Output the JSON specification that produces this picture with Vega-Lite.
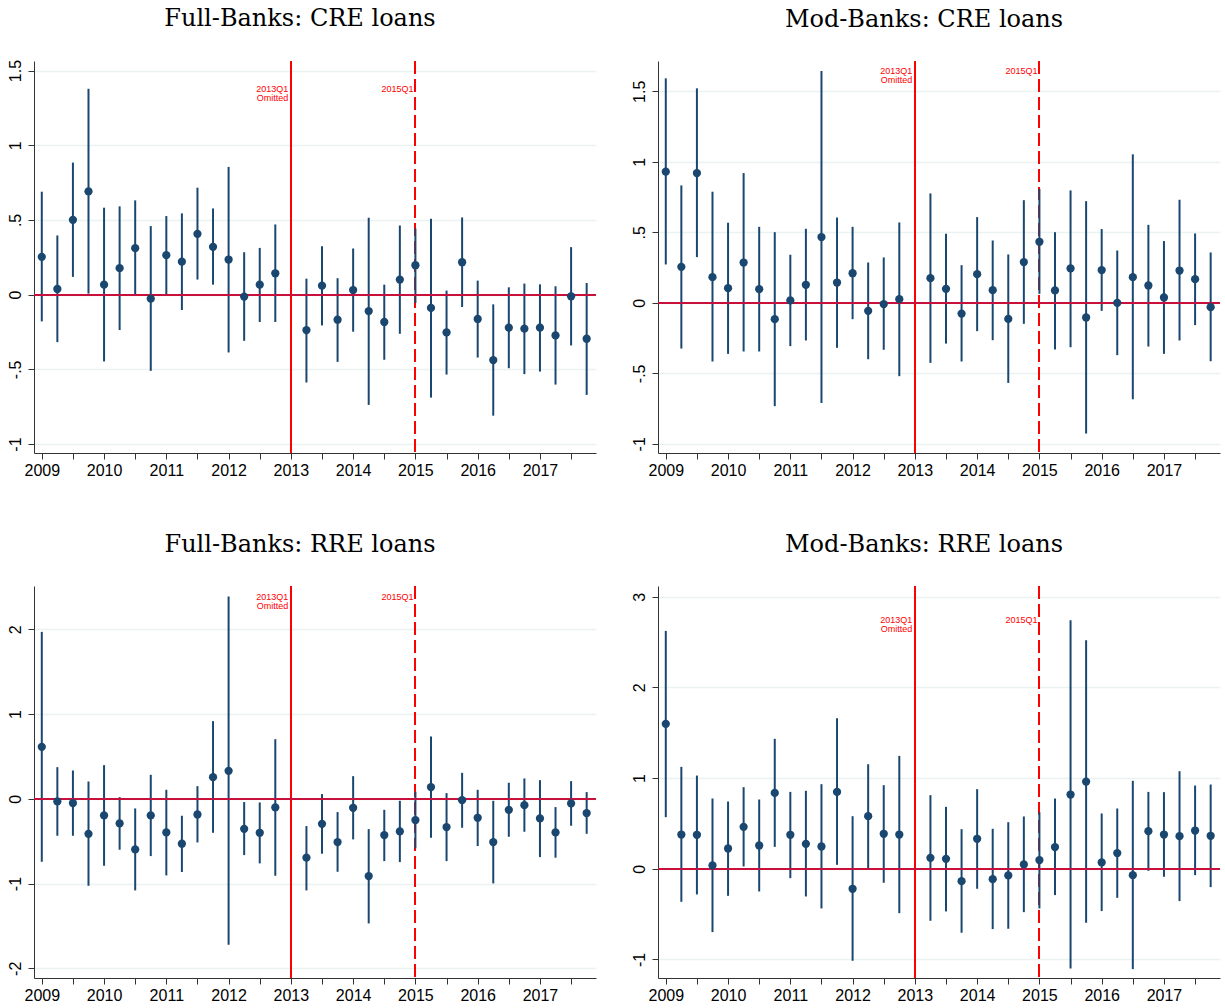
{
  "$schema": "https://vega.github.io/schema/vega-lite/v6.json",
  "padding": {"left": 7, "top": 7, "right": 0, "bottom": 0},
  "background": "white",
  "datasets": {
    "est": [
      {"p":"FC","q":0,"b":0.253,"lo":-0.179,"hi":0.689},
      {"p":"FC","q":1,"b":0.038,"lo":-0.318,"hi":0.396},
      {"p":"FC","q":2,"b":0.501,"lo":0.119,"hi":0.884},
      {"p":"FC","q":3,"b":0.691,"lo":0.007,"hi":1.378},
      {"p":"FC","q":4,"b":0.067,"lo":-0.447,"hi":0.582},
      {"p":"FC","q":5,"b":0.177,"lo":-0.237,"hi":0.591},
      {"p":"FC","q":6,"b":0.311,"lo":-0.004,"hi":0.631},
      {"p":"FC","q":7,"b":-0.027,"lo":-0.510,"hi":0.459},
      {"p":"FC","q":8,"b":0.264,"lo":0.000,"hi":0.526},
      {"p":"FC","q":9,"b":0.221,"lo":-0.103,"hi":0.544},
      {"p":"FC","q":10,"b":0.407,"lo":0.101,"hi":0.716},
      {"p":"FC","q":11,"b":0.320,"lo":0.067,"hi":0.577},
      {"p":"FC","q":12,"b":0.235,"lo":-0.387,"hi":0.855},
      {"p":"FC","q":13,"b":-0.013,"lo":-0.309,"hi":0.284},
      {"p":"FC","q":14,"b":0.067,"lo":-0.183,"hi":0.313},
      {"p":"FC","q":15,"b":0.143,"lo":-0.183,"hi":0.470},
      {"p":"FC","q":17,"b":-0.237,"lo":-0.588,"hi":0.107},
      {"p":"FC","q":18,"b":0.060,"lo":-0.206,"hi":0.324},
      {"p":"FC","q":19,"b":-0.168,"lo":-0.450,"hi":0.110},
      {"p":"FC","q":20,"b":0.031,"lo":-0.248,"hi":0.309},
      {"p":"FC","q":21,"b":-0.110,"lo":-0.738,"hi":0.515},
      {"p":"FC","q":22,"b":-0.183,"lo":-0.436,"hi":0.067},
      {"p":"FC","q":23,"b":0.101,"lo":-0.262,"hi":0.463},
      {"p":"FC","q":24,"b":0.197,"lo":-0.056,"hi":0.443},
      {"p":"FC","q":25,"b":-0.089,"lo":-0.689,"hi":0.508},
      {"p":"FC","q":26,"b":-0.253,"lo":-0.535,"hi":0.027},
      {"p":"FC","q":27,"b":0.217,"lo":-0.083,"hi":0.517},
      {"p":"FC","q":28,"b":-0.163,"lo":-0.421,"hi":0.094},
      {"p":"FC","q":29,"b":-0.438,"lo":-0.810,"hi":-0.065},
      {"p":"FC","q":30,"b":-0.221,"lo":-0.492,"hi":0.049},
      {"p":"FC","q":31,"b":-0.228,"lo":-0.532,"hi":0.074},
      {"p":"FC","q":32,"b":-0.221,"lo":-0.515,"hi":0.069},
      {"p":"FC","q":33,"b":-0.273,"lo":-0.602,"hi":0.056},
      {"p":"FC","q":34,"b":-0.011,"lo":-0.340,"hi":0.318},
      {"p":"FC","q":35,"b":-0.295,"lo":-0.671,"hi":0.078},

      {"p":"MC","q":0,"b":0.930,"lo":0.272,"hi":1.592},
      {"p":"MC","q":1,"b":0.255,"lo":-0.324,"hi":0.833},
      {"p":"MC","q":2,"b":0.920,"lo":0.324,"hi":1.521},
      {"p":"MC","q":3,"b":0.182,"lo":-0.416,"hi":0.788},
      {"p":"MC","q":4,"b":0.104,"lo":-0.362,"hi":0.568},
      {"p":"MC","q":5,"b":0.286,"lo":-0.345,"hi":0.920},
      {"p":"MC","q":6,"b":0.097,"lo":-0.345,"hi":0.539},
      {"p":"MC","q":7,"b":-0.116,"lo":-0.733,"hi":0.501},
      {"p":"MC","q":8,"b":0.017,"lo":-0.307,"hi":0.341},
      {"p":"MC","q":9,"b":0.128,"lo":-0.267,"hi":0.525},
      {"p":"MC","q":10,"b":0.466,"lo":-0.710,"hi":1.644},
      {"p":"MC","q":11,"b":0.144,"lo":-0.319,"hi":0.605},
      {"p":"MC","q":12,"b":0.210,"lo":-0.116,"hi":0.539},
      {"p":"MC","q":13,"b":-0.057,"lo":-0.400,"hi":0.286},
      {"p":"MC","q":14,"b":-0.009,"lo":-0.333,"hi":0.322},
      {"p":"MC","q":15,"b":0.026,"lo":-0.520,"hi":0.570},
      {"p":"MC","q":17,"b":0.175,"lo":-0.426,"hi":0.776},
      {"p":"MC","q":18,"b":0.099,"lo":-0.289,"hi":0.490},
      {"p":"MC","q":19,"b":-0.076,"lo":-0.416,"hi":0.267},
      {"p":"MC","q":20,"b":0.203,"lo":-0.201,"hi":0.608},
      {"p":"MC","q":21,"b":0.090,"lo":-0.265,"hi":0.442},
      {"p":"MC","q":22,"b":-0.114,"lo":-0.568,"hi":0.343},
      {"p":"MC","q":23,"b":0.289,"lo":-0.149,"hi":0.728},
      {"p":"MC","q":24,"b":0.433,"lo":0.064,"hi":0.807},
      {"p":"MC","q":25,"b":0.088,"lo":-0.331,"hi":0.501},
      {"p":"MC","q":26,"b":0.244,"lo":-0.315,"hi":0.797},
      {"p":"MC","q":27,"b":-0.104,"lo":-0.927,"hi":0.721},
      {"p":"MC","q":28,"b":0.232,"lo":-0.057,"hi":0.523},
      {"p":"MC","q":29,"b":0.000,"lo":-0.371,"hi":0.371},
      {"p":"MC","q":30,"b":0.182,"lo":-0.684,"hi":1.053},
      {"p":"MC","q":31,"b":0.123,"lo":-0.310,"hi":0.553},
      {"p":"MC","q":32,"b":0.038,"lo":-0.362,"hi":0.438},
      {"p":"MC","q":33,"b":0.229,"lo":-0.267,"hi":0.731},
      {"p":"MC","q":34,"b":0.168,"lo":-0.158,"hi":0.492},
      {"p":"MC","q":35,"b":-0.031,"lo":-0.414,"hi":0.357},

      {"p":"FR","q":0,"b":0.613,"lo":-0.743,"hi":1.969},
      {"p":"FR","q":1,"b":-0.031,"lo":-0.436,"hi":0.373},
      {"p":"FR","q":2,"b":-0.051,"lo":-0.436,"hi":0.334},
      {"p":"FR","q":3,"b":-0.413,"lo":-1.026,"hi":0.204},
      {"p":"FR","q":4,"b":-0.196,"lo":-0.790,"hi":0.397},
      {"p":"FR","q":5,"b":-0.291,"lo":-0.601,"hi":0.020},
      {"p":"FR","q":6,"b":-0.597,"lo":-1.081,"hi":-0.114},
      {"p":"FR","q":7,"b":-0.196,"lo":-0.676,"hi":0.283},
      {"p":"FR","q":8,"b":-0.397,"lo":-0.904,"hi":0.106},
      {"p":"FR","q":9,"b":-0.530,"lo":-0.864,"hi":-0.200},
      {"p":"FR","q":10,"b":-0.185,"lo":-0.515,"hi":0.149},
      {"p":"FR","q":11,"b":0.255,"lo":-0.401,"hi":0.916},
      {"p":"FR","q":12,"b":0.330,"lo":-1.721,"hi":2.385},
      {"p":"FR","q":13,"b":-0.354,"lo":-0.664,"hi":-0.039},
      {"p":"FR","q":14,"b":-0.401,"lo":-0.762,"hi":-0.043},
      {"p":"FR","q":15,"b":-0.102,"lo":-0.908,"hi":0.703},
      {"p":"FR","q":17,"b":-0.695,"lo":-1.081,"hi":-0.322},
      {"p":"FR","q":18,"b":-0.295,"lo":-0.648,"hi":0.055},
      {"p":"FR","q":19,"b":-0.511,"lo":-0.861,"hi":-0.157},
      {"p":"FR","q":20,"b":-0.106,"lo":-0.479,"hi":0.267},
      {"p":"FR","q":21,"b":-0.912,"lo":-1.470,"hi":-0.358},
      {"p":"FR","q":22,"b":-0.428,"lo":-0.735,"hi":-0.130},
      {"p":"FR","q":23,"b":-0.385,"lo":-0.747,"hi":-0.024},
      {"p":"FR","q":24,"b":-0.251,"lo":-0.585,"hi":0.083},
      {"p":"FR","q":25,"b":0.138,"lo":-0.460,"hi":0.735},
      {"p":"FR","q":26,"b":-0.334,"lo":-0.735,"hi":0.067},
      {"p":"FR","q":27,"b":-0.016,"lo":-0.342,"hi":0.306},
      {"p":"FR","q":28,"b":-0.224,"lo":-0.558,"hi":0.106},
      {"p":"FR","q":29,"b":-0.511,"lo":-0.998,"hi":-0.024},
      {"p":"FR","q":30,"b":-0.130,"lo":-0.448,"hi":0.189},
      {"p":"FR","q":31,"b":-0.075,"lo":-0.389,"hi":0.240},
      {"p":"FR","q":32,"b":-0.232,"lo":-0.688,"hi":0.220},
      {"p":"FR","q":33,"b":-0.397,"lo":-0.695,"hi":-0.098},
      {"p":"FR","q":34,"b":-0.055,"lo":-0.318,"hi":0.208},
      {"p":"FR","q":35,"b":-0.169,"lo":-0.413,"hi":0.079},

      {"p":"MR","q":0,"b":1.598,"lo":0.569,"hi":2.623},
      {"p":"MR","q":1,"b":0.378,"lo":-0.364,"hi":1.124},
      {"p":"MR","q":2,"b":0.375,"lo":-0.283,"hi":1.028},
      {"p":"MR","q":3,"b":0.037,"lo":-0.698,"hi":0.775},
      {"p":"MR","q":4,"b":0.224,"lo":-0.298,"hi":0.742},
      {"p":"MR","q":5,"b":0.463,"lo":0.026,"hi":0.900},
      {"p":"MR","q":6,"b":0.257,"lo":-0.250,"hi":0.764},
      {"p":"MR","q":7,"b":0.837,"lo":0.242,"hi":1.433},
      {"p":"MR","q":8,"b":0.375,"lo":-0.103,"hi":0.848},
      {"p":"MR","q":9,"b":0.275,"lo":-0.305,"hi":0.860},
      {"p":"MR","q":10,"b":0.246,"lo":-0.437,"hi":0.933},
      {"p":"MR","q":11,"b":0.848,"lo":0.044,"hi":1.660},
      {"p":"MR","q":12,"b":-0.220,"lo":-1.014,"hi":0.580},
      {"p":"MR","q":13,"b":0.580,"lo":0.007,"hi":1.153},
      {"p":"MR","q":14,"b":0.386,"lo":-0.154,"hi":0.922},
      {"p":"MR","q":15,"b":0.378,"lo":-0.489,"hi":1.245},
      {"p":"MR","q":17,"b":0.121,"lo":-0.573,"hi":0.812},
      {"p":"MR","q":18,"b":0.110,"lo":-0.470,"hi":0.683},
      {"p":"MR","q":19,"b":-0.136,"lo":-0.705,"hi":0.437},
      {"p":"MR","q":20,"b":0.331,"lo":-0.220,"hi":0.878},
      {"p":"MR","q":21,"b":-0.114,"lo":-0.665,"hi":0.441},
      {"p":"MR","q":22,"b":-0.073,"lo":-0.661,"hi":0.514},
      {"p":"MR","q":23,"b":0.048,"lo":-0.478,"hi":0.577},
      {"p":"MR","q":24,"b":0.096,"lo":-0.437,"hi":0.624},
      {"p":"MR","q":25,"b":0.239,"lo":-0.290,"hi":0.775},
      {"p":"MR","q":26,"b":0.819,"lo":-1.098,"hi":2.740},
      {"p":"MR","q":27,"b":0.962,"lo":-0.595,"hi":2.520},
      {"p":"MR","q":28,"b":0.070,"lo":-0.466,"hi":0.610},
      {"p":"MR","q":29,"b":0.173,"lo":-0.320,"hi":0.665},
      {"p":"MR","q":30,"b":-0.070,"lo":-1.106,"hi":0.970},
      {"p":"MR","q":31,"b":0.415,"lo":-0.022,"hi":0.848},
      {"p":"MR","q":32,"b":0.378,"lo":-0.088,"hi":0.845},
      {"p":"MR","q":33,"b":0.360,"lo":-0.356,"hi":1.076},
      {"p":"MR","q":34,"b":0.422,"lo":-0.070,"hi":0.918},
      {"p":"MR","q":35,"b":0.364,"lo":-0.202,"hi":0.929}
    ]
  },
  "columns": 2,
  "bounds": "flush",
  "spacing": {"row": 133, "column": 62},
  "concat": [
    {
      "title": "Full-Banks: CRE loans",
      "width": 562, "height": 392,
      "data": {"name": "est"},
      "transform": [{"filter": "datum.p == 'FC'"}],
      "layer": [
        {"mark": {"type": "rule", "color": "#ff0000", "strokeWidth": 0.9}, "encoding": {"x": {"datum": 16, "type": "quantitative"}}},
        {"mark": {"type": "rule", "color": "#ff0000", "strokeWidth": 1.1, "strokeDash": [13, 5]}, "encoding": {"x": {"datum": 24, "type": "quantitative"}}},
        {"mark": {"type": "rule", "color": "#1a476f", "strokeWidth": 2},
         "encoding": {
           "x": {"field": "q", "type": "quantitative", "title": null, "scale": {"domain": [-0.5, 35.6], "nice": false, "zero": false}},
           "y": {"field": "lo", "type": "quantitative", "title": null, "scale": {"domain": [-1.06, 1.564], "nice": false, "zero": false}, "axis": {"values": [-1, -0.5, 0, 0.5, 1, 1.5]}},
           "y2": {"field": "hi"}}},
        {"mark": {"type": "rule", "color": "#c8103c", "strokeWidth": 1.5}, "encoding": {"y": {"datum": 0, "type": "quantitative"}}},
        {"mark": {"type": "point", "filled": true, "opacity": 1, "color": "#1a476f", "size": 68},
         "encoding": {"x": {"field": "q", "type": "quantitative", "title": null}, "y": {"field": "b", "type": "quantitative", "title": null}}},
        {"transform": [{"aggregate": [{"op": "max", "field": "hi", "as": "ymax"}]}],
         "mark": {"type": "text", "align": "right", "baseline": "middle", "dx": -2.5, "fontSize": 9, "lineHeight": 9, "font": "Liberation Sans", "color": "#ff0000"},
         "encoding": {"x": {"datum": 16, "type": "quantitative"}, "y": {"field": "ymax", "type": "quantitative", "title": null}, "text": {"value": ["2013Q1", "Omitted"]}}},
        {"transform": [{"aggregate": [{"op": "max", "field": "hi", "as": "ymax"}]}],
         "mark": {"type": "text", "align": "right", "baseline": "middle", "dx": -2, "fontSize": 9, "font": "Liberation Sans", "color": "#ff0000"},
         "encoding": {"x": {"datum": 24, "type": "quantitative"}, "y": {"field": "ymax", "type": "quantitative", "title": null}, "text": {"value": "2015Q1"}}}
      ]
    },
    {
      "title": "Mod-Banks: CRE loans",
      "width": 562, "height": 392,
      "data": {"name": "est"},
      "transform": [{"filter": "datum.p == 'MC'"}],
      "layer": [
        {"mark": {"type": "rule", "color": "#ff0000", "strokeWidth": 0.9}, "encoding": {"x": {"datum": 16, "type": "quantitative"}}},
        {"mark": {"type": "rule", "color": "#ff0000", "strokeWidth": 1.1, "strokeDash": [13, 5]}, "encoding": {"x": {"datum": 24, "type": "quantitative"}}},
        {"mark": {"type": "rule", "color": "#1a476f", "strokeWidth": 2},
         "encoding": {
           "x": {"field": "q", "type": "quantitative", "title": null, "scale": {"domain": [-0.5, 35.6], "nice": false, "zero": false}},
           "y": {"field": "lo", "type": "quantitative", "title": null, "scale": {"domain": [-1.065, 1.715], "nice": false, "zero": false}, "axis": {"values": [-1, -0.5, 0, 0.5, 1, 1.5]}},
           "y2": {"field": "hi"}}},
        {"mark": {"type": "rule", "color": "#c8103c", "strokeWidth": 1.5}, "encoding": {"y": {"datum": 0, "type": "quantitative"}}},
        {"mark": {"type": "point", "filled": true, "opacity": 1, "color": "#1a476f", "size": 68},
         "encoding": {"x": {"field": "q", "type": "quantitative", "title": null}, "y": {"field": "b", "type": "quantitative", "title": null}}},
        {"transform": [{"aggregate": [{"op": "max", "field": "hi", "as": "ymax"}]}],
         "mark": {"type": "text", "align": "right", "baseline": "middle", "dx": -2.5, "fontSize": 9, "lineHeight": 9, "font": "Liberation Sans", "color": "#ff0000"},
         "encoding": {"x": {"datum": 16, "type": "quantitative"}, "y": {"field": "ymax", "type": "quantitative", "title": null}, "text": {"value": ["2013Q1", "Omitted"]}}},
        {"transform": [{"aggregate": [{"op": "max", "field": "hi", "as": "ymax"}]}],
         "mark": {"type": "text", "align": "right", "baseline": "middle", "dx": -2, "fontSize": 9, "font": "Liberation Sans", "color": "#ff0000"},
         "encoding": {"x": {"datum": 24, "type": "quantitative"}, "y": {"field": "ymax", "type": "quantitative", "title": null}, "text": {"value": "2015Q1"}}}
      ]
    },
    {
      "title": "Full-Banks: RRE loans",
      "width": 562, "height": 392,
      "data": {"name": "est"},
      "transform": [{"filter": "datum.p == 'FR'"}],
      "layer": [
        {"mark": {"type": "rule", "color": "#ff0000", "strokeWidth": 0.9}, "encoding": {"x": {"datum": 16, "type": "quantitative"}}},
        {"mark": {"type": "rule", "color": "#ff0000", "strokeWidth": 1.1, "strokeDash": [13, 5]}, "encoding": {"x": {"datum": 24, "type": "quantitative"}}},
        {"mark": {"type": "rule", "color": "#1a476f", "strokeWidth": 2},
         "encoding": {
           "x": {"field": "q", "type": "quantitative", "title": null, "scale": {"domain": [-0.5, 35.6], "nice": false, "zero": false}},
           "y": {"field": "lo", "type": "quantitative", "title": null, "scale": {"domain": [-2.114, 2.51], "nice": false, "zero": false}, "axis": {"values": [-2, -1, 0, 1, 2]}},
           "y2": {"field": "hi"}}},
        {"mark": {"type": "rule", "color": "#c8103c", "strokeWidth": 1.5}, "encoding": {"y": {"datum": 0, "type": "quantitative"}}},
        {"mark": {"type": "point", "filled": true, "opacity": 1, "color": "#1a476f", "size": 68},
         "encoding": {"x": {"field": "q", "type": "quantitative", "title": null}, "y": {"field": "b", "type": "quantitative", "title": null}}},
        {"transform": [{"aggregate": [{"op": "max", "field": "hi", "as": "ymax"}]}],
         "mark": {"type": "text", "align": "right", "baseline": "middle", "dx": -2.5, "fontSize": 9, "lineHeight": 9, "font": "Liberation Sans", "color": "#ff0000"},
         "encoding": {"x": {"datum": 16, "type": "quantitative"}, "y": {"field": "ymax", "type": "quantitative", "title": null}, "text": {"value": ["2013Q1", "Omitted"]}}},
        {"transform": [{"aggregate": [{"op": "max", "field": "hi", "as": "ymax"}]}],
         "mark": {"type": "text", "align": "right", "baseline": "middle", "dx": -2, "fontSize": 9, "font": "Liberation Sans", "color": "#ff0000"},
         "encoding": {"x": {"datum": 24, "type": "quantitative"}, "y": {"field": "ymax", "type": "quantitative", "title": null}, "text": {"value": "2015Q1"}}}
      ]
    },
    {
      "title": "Mod-Banks: RRE loans",
      "width": 562, "height": 392,
      "data": {"name": "est"},
      "transform": [{"filter": "datum.p == 'MR'"}],
      "layer": [
        {"mark": {"type": "rule", "color": "#ff0000", "strokeWidth": 0.9}, "encoding": {"x": {"datum": 16, "type": "quantitative"}}},
        {"mark": {"type": "rule", "color": "#ff0000", "strokeWidth": 1.1, "strokeDash": [13, 5]}, "encoding": {"x": {"datum": 24, "type": "quantitative"}}},
        {"mark": {"type": "rule", "color": "#1a476f", "strokeWidth": 2},
         "encoding": {
           "x": {"field": "q", "type": "quantitative", "title": null, "scale": {"domain": [-0.5, 35.6], "nice": false, "zero": false}},
           "y": {"field": "lo", "type": "quantitative", "title": null, "scale": {"domain": [-1.204, 3.118], "nice": false, "zero": false}, "axis": {"values": [-1, 0, 1, 2, 3]}},
           "y2": {"field": "hi"}}},
        {"mark": {"type": "rule", "color": "#c8103c", "strokeWidth": 1.5}, "encoding": {"y": {"datum": 0, "type": "quantitative"}}},
        {"mark": {"type": "point", "filled": true, "opacity": 1, "color": "#1a476f", "size": 68},
         "encoding": {"x": {"field": "q", "type": "quantitative", "title": null}, "y": {"field": "b", "type": "quantitative", "title": null}}},
        {"transform": [{"aggregate": [{"op": "max", "field": "hi", "as": "ymax"}]}],
         "mark": {"type": "text", "align": "right", "baseline": "middle", "dx": -2.5, "fontSize": 9, "lineHeight": 9, "font": "Liberation Sans", "color": "#ff0000"},
         "encoding": {"x": {"datum": 16, "type": "quantitative"}, "y": {"field": "ymax", "type": "quantitative", "title": null}, "text": {"value": ["2013Q1", "Omitted"]}}},
        {"transform": [{"aggregate": [{"op": "max", "field": "hi", "as": "ymax"}]}],
         "mark": {"type": "text", "align": "right", "baseline": "middle", "dx": -2, "fontSize": 9, "font": "Liberation Sans", "color": "#ff0000"},
         "encoding": {"x": {"datum": 24, "type": "quantitative"}, "y": {"field": "ymax", "type": "quantitative", "title": null}, "text": {"value": "2015Q1"}}}
      ]
    }
  ],
  "config": {
    "view": {"stroke": null},
    "axis": {
      "labelFont": "Liberation Sans", "labelFontSize": 16, "labelColor": "#000000",
      "domainColor": "#333333", "tickColor": "#333333", "tickSize": 6, "domainWidth": 1, "tickWidth": 1,
      "gridColor": "#eaf2f3", "gridWidth": 1.3
    },
    "axisX": {
      "grid": false, "labelPadding": 3, "labelFlush": false, "labelOverlap": false,
      "values": [0,1,2,3,4,5,6,7,8,9,10,11,12,13,14,15,16,17,18,19,20,21,22,23,24,25,26,27,28,29,30,31,32,33,34,35],
      "labelExpr": "datum.value % 4 == 0 ? '' + (2009 + datum.value / 4) : ''"
    },
    "axisY": {
      "grid": true, "labelAngle": -90, "labelAlign": "center", "labelBaseline": "alphabetic", "labelPadding": 8,
      "labelFlush": false, "labelOverlap": false,
      "labelExpr": "datum.value == 0.5 ? '.5' : datum.value == -0.5 ? '-.5' : '' + datum.value"
    },
    "title": {
      "font": "DejaVu Serif", "fontSize": 24, "fontWeight": "normal", "color": "#000000",
      "anchor": "middle", "frame": "group", "baseline": "alphabetic", "offset": 28, "dx": -15
    }
  }
}
